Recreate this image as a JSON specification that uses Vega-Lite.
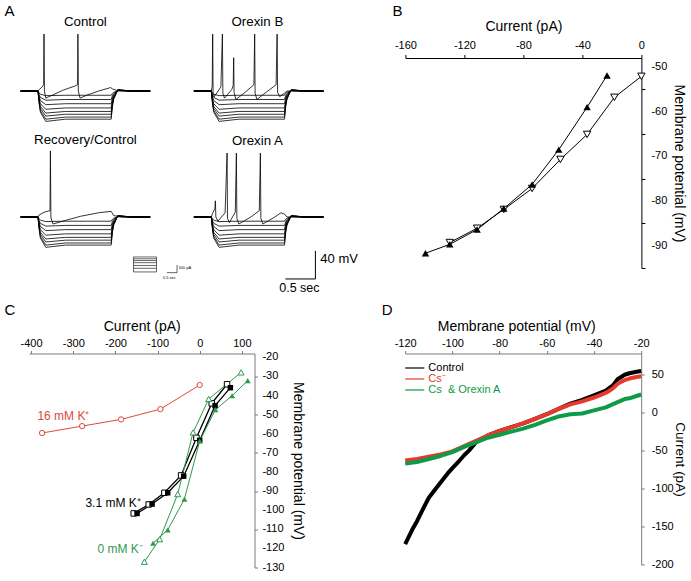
{
"$schema":"https://vega.github.io/schema/vega-lite/v6.json",
"background":"white",
"padding":{"left":4,"top":3,"right":0,"bottom":0},
"config":{"font":"Liberation Sans","view":{"stroke":null},
"axis":{"grid":false,"labelFont":"Liberation Sans","labelFontSize":11,"labelColor":"black","titleFont":"Liberation Sans","titleFontSize":14,"titleFontWeight":"normal","titleColor":"black","labelFlush":false,"labelOverlap":false,"tickSize":3,"domainColor":"black","tickColor":"black"},
"text":{"font":"Liberation Sans","color":"black"}},
"datasets":{
"steps":[
{"t":0,"a":-60,"b":-60,"c":-60,"d":-60,"e":-60,"f":-60,"g":-60,"h":-60},
{"t":0.29,"a":-60,"b":-60,"c":-60,"d":-60,"e":-60,"f":-60,"g":-60,"h":-60},
{"t":0.31,"a":-62.7,"b":-65.4,"c":-68.1,"d":-70.8,"e":-73,"f":-74.9,"g":-76.7,"h":-78},
{"t":0.33,"a":-64.5,"b":-69,"c":-73.5,"d":-78,"e":-81.8,"f":-84.8,"g":-87.8,"h":-90},
{"t":0.42,"a":-66.5,"b":-73,"c":-79.4,"d":-85.9,"e":-91.3,"f":-95.6,"g":-100,"h":-103.2},
{"t":0.75,"a":-66,"b":-72,"c":-78,"d":-84,"e":-89,"f":-93,"g":-97,"h":-100},
{"t":1.51,"a":-66,"b":-72,"c":-78,"d":-84,"e":-89,"f":-93,"g":-97,"h":-100},
{"t":1.53,"a":-63.3,"b":-66.6,"c":-69.9,"d":-73.2,"e":-76,"f":-78.2,"g":-80.4,"h":-82},
{"t":1.55,"a":-61.8,"b":-63.6,"c":-65.4,"d":-67.2,"e":-68.7,"f":-69.9,"g":-71.1,"h":-72},
{"t":1.62,"a":-59.7,"b":-59.4,"c":-59.1,"d":-58.8,"e":-58.6,"f":-58.4,"g":-58.2,"h":-58},
{"t":1.85,"a":-60,"b":-60,"c":-60,"d":-60,"e":-60,"f":-60,"g":-60,"h":-60},
{"t":2.16,"a":-60,"b":-60,"c":-60,"d":-60,"e":-60,"f":-60,"g":-60,"h":-60}],
"spk":[
{"p":"Control","t":0,"v":-60},{"p":"Control","t":0.29,"v":-60},{"p":"Control","t":0.31,"v":-58},{"p":"Control","t":0.36,"v":-54},{"p":"Control","t":0.385,"v":-51},{"p":"Control","t":0.39,"v":21},{"p":"Control","t":0.397,"v":-60},{"p":"Control","t":0.42,"v":-70},{"p":"Control","t":0.5,"v":-67},{"p":"Control","t":0.7,"v":-59},{"p":"Control","t":0.9,"v":-53},{"p":"Control","t":0.95,"v":-51},{"p":"Control","t":0.955,"v":21},{"p":"Control","t":0.962,"v":-60},{"p":"Control","t":0.99,"v":-70},{"p":"Control","t":1.1,"v":-66},{"p":"Control","t":1.3,"v":-60},{"p":"Control","t":1.5,"v":-55},{"p":"Control","t":1.53,"v":-57},{"p":"Control","t":1.6,"v":-59},{"p":"Control","t":1.8,"v":-60},{"p":"Control","t":2.16,"v":-60},
{"p":"OrexinB","t":0,"v":-60},{"p":"OrexinB","t":0.29,"v":-60},{"p":"OrexinB","t":0.305,"v":-53},{"p":"OrexinB","t":0.313,"v":21},{"p":"OrexinB","t":0.32,"v":-62},{"p":"OrexinB","t":0.34,"v":-68},{"p":"OrexinB","t":0.45,"v":-54},{"p":"OrexinB","t":0.475,"v":21},{"p":"OrexinB","t":0.483,"v":-63},{"p":"OrexinB","t":0.51,"v":-70},{"p":"OrexinB","t":0.63,"v":-58},{"p":"OrexinB","t":0.655,"v":-52},{"p":"OrexinB","t":0.663,"v":-12.6},{"p":"OrexinB","t":0.67,"v":-62},{"p":"OrexinB","t":0.7,"v":-72},{"p":"OrexinB","t":0.85,"v":-62},{"p":"OrexinB","t":1.0,"v":-51},{"p":"OrexinB","t":1.013,"v":21},{"p":"OrexinB","t":1.02,"v":-63},{"p":"OrexinB","t":1.05,"v":-72},{"p":"OrexinB","t":1.2,"v":-62},{"p":"OrexinB","t":1.37,"v":-51},{"p":"OrexinB","t":1.387,"v":21},{"p":"OrexinB","t":1.395,"v":-62},{"p":"OrexinB","t":1.43,"v":-68},{"p":"OrexinB","t":1.51,"v":-63},{"p":"OrexinB","t":1.55,"v":-60},{"p":"OrexinB","t":2.16,"v":-60},
{"p":"Recovery","t":0,"v":-60},{"p":"Recovery","t":0.29,"v":-60},{"p":"Recovery","t":0.31,"v":-57},{"p":"Recovery","t":0.4,"v":-53},{"p":"Recovery","t":0.49,"v":-51},{"p":"Recovery","t":0.497,"v":34},{"p":"Recovery","t":0.505,"v":-61},{"p":"Recovery","t":0.54,"v":-70},{"p":"Recovery","t":0.7,"v":-66},{"p":"Recovery","t":1.0,"v":-59},{"p":"Recovery","t":1.3,"v":-54},{"p":"Recovery","t":1.51,"v":-52},{"p":"Recovery","t":1.55,"v":-58},{"p":"Recovery","t":1.7,"v":-60},{"p":"Recovery","t":2.16,"v":-60},
{"p":"OrexinA","t":0,"v":-60},{"p":"OrexinA","t":0.29,"v":-60},{"p":"OrexinA","t":0.31,"v":-55},{"p":"OrexinA","t":0.35,"v":-48},{"p":"OrexinA","t":0.358,"v":-37},{"p":"OrexinA","t":0.366,"v":-60},{"p":"OrexinA","t":0.4,"v":-66},{"p":"OrexinA","t":0.52,"v":-54},{"p":"OrexinA","t":0.553,"v":31},{"p":"OrexinA","t":0.56,"v":-62},{"p":"OrexinA","t":0.59,"v":-68},{"p":"OrexinA","t":0.69,"v":-53},{"p":"OrexinA","t":0.708,"v":31},{"p":"OrexinA","t":0.716,"v":-62},{"p":"OrexinA","t":0.75,"v":-70},{"p":"OrexinA","t":0.95,"v":-60},{"p":"OrexinA","t":1.09,"v":-51},{"p":"OrexinA","t":1.108,"v":31},{"p":"OrexinA","t":1.116,"v":-62},{"p":"OrexinA","t":1.15,"v":-70},{"p":"OrexinA","t":1.35,"v":-60},{"p":"OrexinA","t":1.45,"v":-54},{"p":"OrexinA","t":1.51,"v":-56},{"p":"OrexinA","t":1.55,"v":-60},{"p":"OrexinA","t":2.16,"v":-60}],
"B":[
{"s":"o","x":0,"y":-52.1},{"s":"o","x":-18.3,"y":-56.8},{"s":"o","x":-36.8,"y":-65.1},{"s":"o","x":-54.9,"y":-70.7},{"s":"o","x":-74.1,"y":-77.2},{"s":"o","x":-93.3,"y":-81.9},{"s":"o","x":-111.4,"y":-86.1},{"s":"o","x":-129.9,"y":-89.3},
{"s":"f","x":-23.3,"y":-51.9},{"s":"f","x":-36.8,"y":-59},{"s":"f","x":-56,"y":-68.5},{"s":"f","x":-74.1,"y":-76.3},{"s":"f","x":-93.3,"y":-81.7},{"s":"f","x":-111.4,"y":-86.4},{"s":"f","x":-129.9,"y":-89.7},{"s":"f","x":-146.4,"y":-91.7}],
"Bylab":[{"lab":"-50","y":-50},{"lab":"-60","y":-60},{"lab":"-70","y":-70},{"lab":"-80","y":-80},{"lab":"-90","y":-90}],
"C":[
{"s":"r","x":-374,"y":-59.6},{"s":"r","x":-279,"y":-56},{"s":"r","x":-186.5,"y":-52.5},{"s":"r","x":-93.2,"y":-47.1},{"s":"r","x":0,"y":-34.5},
{"s":"ko","x":-156.6,"y":-101.7},{"s":"ko","x":-121,"y":-97},{"s":"ko","x":-83.8,"y":-90.9},{"s":"ko","x":-44.2,"y":-81.8},{"s":"ko","x":-7.8,"y":-62.1},{"s":"ko","x":28.5,"y":-44.1},{"s":"ko","x":64.9,"y":-34.1},
{"s":"kf","x":-148.6,"y":-101.7},{"s":"kf","x":-113,"y":-96.8},{"s":"kf","x":-75.9,"y":-90.9},{"s":"kf","x":-38,"y":-82.2},{"s":"kf","x":0,"y":-63.5},{"s":"kf","x":36.5,"y":-45.3},{"s":"kf","x":72.8,"y":-35.9},
{"s":"go","x":-131.2,"y":-127},{"s":"go","x":-94.9,"y":-115.2},{"s":"go","x":-52.2,"y":-91.6},{"s":"go","x":-15.7,"y":-59.3},{"s":"go","x":21.4,"y":-41.8},{"s":"go","x":98.2,"y":-27.9},
{"s":"gf","x":-110.6,"y":-117.3},{"s":"gf","x":-75.9,"y":-110.3},{"s":"gf","x":-36.3,"y":-94.2},{"s":"gf","x":0,"y":-63.8},{"s":"gf","x":37.2,"y":-47.4},{"s":"gf","x":76.9,"y":-40.1},{"s":"gf","x":113.9,"y":-32.2}],
"Cylab":[{"lab":"-20","y":-20},{"lab":"-30","y":-30},{"lab":"-40","y":-40},{"lab":"-50","y":-50},{"lab":"-60","y":-60},{"lab":"-70","y":-70},{"lab":"-80","y":-80},{"lab":"-90","y":-90},{"lab":"-100","y":-100},{"lab":"-110","y":-110},{"lab":"-120","y":-120},{"lab":"-130","y":-130}],
"D":[
{"s":"Control","x":-120,"y":-173},{"s":"Control","x":-117,"y":-154},{"s":"Control","x":-115,"y":-143},{"s":"Control","x":-112,"y":-124},{"s":"Control","x":-110,"y":-112},{"s":"Control","x":-107,"y":-100},{"s":"Control","x":-105,"y":-92},{"s":"Control","x":-102,"y":-80},{"s":"Control","x":-100,"y":-73},{"s":"Control","x":-97,"y":-63},{"s":"Control","x":-95,"y":-56},{"s":"Control","x":-93,"y":-50},{"s":"Control","x":-90,"y":-39},{"s":"Control","x":-85,"y":-30},{"s":"Control","x":-80,"y":-24},{"s":"Control","x":-75,"y":-19},{"s":"Control","x":-70,"y":-14},{"s":"Control","x":-65,"y":-8},{"s":"Control","x":-60,"y":-2},{"s":"Control","x":-55,"y":5},{"s":"Control","x":-50,"y":12},{"s":"Control","x":-45,"y":17},{"s":"Control","x":-40,"y":23},{"s":"Control","x":-35,"y":29},{"s":"Control","x":-32,"y":36},{"s":"Control","x":-30,"y":44},{"s":"Control","x":-27,"y":50},{"s":"Control","x":-25,"y":52},{"s":"Control","x":-22,"y":54},{"s":"Control","x":-20,"y":55},
{"s":"Cs⁻","x":-120,"y":-63},{"s":"Cs⁻","x":-115,"y":-61},{"s":"Cs⁻","x":-110,"y":-58},{"s":"Cs⁻","x":-105,"y":-55},{"s":"Cs⁻","x":-100,"y":-51},{"s":"Cs⁻","x":-95,"y":-44},{"s":"Cs⁻","x":-90,"y":-37},{"s":"Cs⁻","x":-85,"y":-30},{"s":"Cs⁻","x":-80,"y":-24},{"s":"Cs⁻","x":-75,"y":-19},{"s":"Cs⁻","x":-70,"y":-14},{"s":"Cs⁻","x":-65,"y":-8},{"s":"Cs⁻","x":-60,"y":-2},{"s":"Cs⁻","x":-55,"y":5},{"s":"Cs⁻","x":-50,"y":11},{"s":"Cs⁻","x":-45,"y":15},{"s":"Cs⁻","x":-40,"y":20},{"s":"Cs⁻","x":-35,"y":26},{"s":"Cs⁻","x":-32,"y":32},{"s":"Cs⁻","x":-30,"y":38},{"s":"Cs⁻","x":-27,"y":43},{"s":"Cs⁻","x":-25,"y":45},{"s":"Cs⁻","x":-22,"y":47},{"s":"Cs⁻","x":-20,"y":48},
{"s":"Cs & Orexin A","x":-120,"y":-67},{"s":"Cs & Orexin A","x":-115,"y":-65},{"s":"Cs & Orexin A","x":-110,"y":-61},{"s":"Cs & Orexin A","x":-105,"y":-57},{"s":"Cs & Orexin A","x":-100,"y":-52},{"s":"Cs & Orexin A","x":-95,"y":-45},{"s":"Cs & Orexin A","x":-90,"y":-39},{"s":"Cs & Orexin A","x":-85,"y":-33},{"s":"Cs & Orexin A","x":-80,"y":-29},{"s":"Cs & Orexin A","x":-75,"y":-25},{"s":"Cs & Orexin A","x":-70,"y":-21},{"s":"Cs & Orexin A","x":-65,"y":-16},{"s":"Cs & Orexin A","x":-60,"y":-10},{"s":"Cs & Orexin A","x":-55,"y":-5},{"s":"Cs & Orexin A","x":-50,"y":-2},{"s":"Cs & Orexin A","x":-45,"y":-1},{"s":"Cs & Orexin A","x":-40,"y":3},{"s":"Cs & Orexin A","x":-35,"y":7},{"s":"Cs & Orexin A","x":-30,"y":14},{"s":"Cs & Orexin A","x":-27,"y":18},{"s":"Cs & Orexin A","x":-25,"y":19},{"s":"Cs & Orexin A","x":-22,"y":22},{"s":"Cs & Orexin A","x":-20,"y":24}],
"Dleg":[
{"s":"Control","lab":"Control","y":58.9},
{"s":"Cs⁻","lab":"Cs⁻","y":44.4},
{"s":"Cs & Orexin A","lab":"Cs\u00a0 & Orexin A","y":29.9}]
},
"bounds":"flush","spacing":295.5,
"vconcat":[
{"bounds":"flush","spacing":376.4,"hconcat":[
 {"bounds":"flush","spacing":123,"vconcat":[
  {"bounds":"flush","spacing":23.3,"hconcat":[
   {"width":150,"height":64,"layer":[
    {"data":{"name":"steps"},"transform":[{"fold":["a","b","c","d","e","f","g","h"],"as":["k","v"]}],"mark":{"type":"line","color":"black","strokeWidth":0.8},
     "encoding":{"x":{"field":"t","type":"quantitative","scale":{"domain":[0.14,2.64],"nice":false,"zero":false},"axis":null},"y":{"field":"v","type":"quantitative","scale":{"domain":[-104,-13],"nice":false,"zero":false},"axis":null},"detail":{"field":"k"}}},
    {"data":{"name":"spk"},"transform":[{"filter":"datum.p==='Control'"}],"mark":{"type":"line","color":"black","strokeWidth":0.8},"encoding":{"x":{"field":"t","type":"quantitative"},"y":{"field":"v","type":"quantitative"}}},
    {"data":{"values":[{}]},"mark":{"type":"text","text":"Control","fontSize":13.3,"align":"center","baseline":"middle"},"encoding":{"x":{"datum":1.08},"y":{"datum":37.5}}},
    {"data":{"values":[{}]},"mark":{"type":"text","text":"A","fontSize":15,"align":"left","baseline":"top"},"encoding":{"x":{"datum":-0.27},"y":{"datum":63.8}}}
   ]},
   {"width":150,"height":64,"layer":[
    {"data":{"name":"steps"},"transform":[{"fold":["a","b","c","d","e","f","g","h"],"as":["k","v"]}],"mark":{"type":"line","color":"black","strokeWidth":0.8},
     "encoding":{"x":{"field":"t","type":"quantitative","scale":{"domain":[0.14,2.64],"nice":false,"zero":false},"axis":null},"y":{"field":"v","type":"quantitative","scale":{"domain":[-104,-13],"nice":false,"zero":false},"axis":null},"detail":{"field":"k"}}},
    {"data":{"name":"spk"},"transform":[{"filter":"datum.p==='OrexinB'"}],"mark":{"type":"line","color":"black","strokeWidth":0.8},"encoding":{"x":{"field":"t","type":"quantitative"},"y":{"field":"v","type":"quantitative"}}},
    {"data":{"values":[{}]},"mark":{"type":"text","text":"Orexin B","fontSize":13.3,"align":"center","baseline":"middle"},"encoding":{"x":{"datum":1.058},"y":{"datum":37.5}}}
   ]}
  ]},
  {"bounds":"flush","spacing":23.3,"hconcat":[
   {"width":150,"height":87,"layer":[
    {"data":{"name":"steps"},"transform":[{"fold":["a","b","c","d","e","f","g","h"],"as":["k","v"]}],"mark":{"type":"line","color":"black","strokeWidth":0.8},
     "encoding":{"x":{"field":"t","type":"quantitative","scale":{"domain":[0.14,2.64],"nice":false,"zero":false},"axis":null},"y":{"field":"v","type":"quantitative","scale":{"domain":[-132.6,-8.8],"nice":false,"zero":false},"axis":null},"detail":{"field":"k"}}},
    {"data":{"name":"spk"},"transform":[{"filter":"datum.p==='Recovery'"}],"mark":{"type":"line","color":"black","strokeWidth":0.8},"encoding":{"x":{"field":"t","type":"quantitative"},"y":{"field":"v","type":"quantitative"}}},
    {"data":{"values":[{}]},"mark":{"type":"text","text":"Recovery/Control","fontSize":13.3,"align":"center","baseline":"middle"},"encoding":{"x":{"datum":1.08},"y":{"datum":50.2}}},
    {"data":{"values":[{}]},"mark":{"type":"rect","filled":false,"color":"black","strokeWidth":0.6},"encoding":{"x":{"datum":1.882},"x2":{"datum":2.265},"y":{"datum":-116.9},"y2":{"datum":-138.2}}},
    {"data":{"values":[{"v":-119.5},{"v":-122},{"v":-125},{"v":-129},{"v":-133}]},"mark":{"type":"rule","color":"black","strokeWidth":0.6},"encoding":{"x":{"datum":1.882},"x2":{"datum":2.265},"y":{"field":"v","type":"quantitative"}}},
    {"data":{"values":[{}]},"mark":{"type":"rule","color":"black","strokeWidth":0.6},"encoding":{"x":{"datum":2.44},"x2":{"datum":2.607},"y":{"datum":-139.2}}},
    {"data":{"values":[{}]},"mark":{"type":"rule","color":"black","strokeWidth":0.6},"encoding":{"x":{"datum":2.607},"y":{"datum":-139.2},"y2":{"datum":-128.3}}},
    {"data":{"values":[{}]},"mark":{"type":"text","text":"100 pA","fontSize":4,"align":"left","baseline":"middle"},"encoding":{"x":{"datum":2.63},"y":{"datum":-132.7}}},
    {"data":{"values":[{}]},"mark":{"type":"text","text":"0.5 sec","fontSize":4,"align":"center","baseline":"middle"},"encoding":{"x":{"datum":2.48},"y":{"datum":-147}}}
   ]},
   {"width":150,"height":87,"layer":[
    {"data":{"name":"steps"},"transform":[{"fold":["a","b","c","d","e","f","g","h"],"as":["k","v"]}],"mark":{"type":"line","color":"black","strokeWidth":0.8},
     "encoding":{"x":{"field":"t","type":"quantitative","scale":{"domain":[0.14,2.64],"nice":false,"zero":false},"axis":null},"y":{"field":"v","type":"quantitative","scale":{"domain":[-132.6,-8.8],"nice":false,"zero":false},"axis":null},"detail":{"field":"k"}}},
    {"data":{"name":"spk"},"transform":[{"filter":"datum.p==='OrexinA'"}],"mark":{"type":"line","color":"black","strokeWidth":0.8},"encoding":{"x":{"field":"t","type":"quantitative"},"y":{"field":"v","type":"quantitative"}}},
    {"data":{"values":[{}]},"mark":{"type":"text","text":"Orexin A","fontSize":13.3,"align":"center","baseline":"middle"},"encoding":{"x":{"datum":1.058},"y":{"datum":48.1}}},
    {"data":{"values":[{}]},"mark":{"type":"rule","color":"black","strokeWidth":1},"encoding":{"x":{"datum":1.525},"x2":{"datum":2.025},"y":{"datum":-148.2}}},
    {"data":{"values":[{}]},"mark":{"type":"rule","color":"black","strokeWidth":1},"encoding":{"x":{"datum":2.025},"y":{"datum":-148.2},"y2":{"datum":-108.2}}},
    {"data":{"values":[{}]},"mark":{"type":"text","text":"40 mV","fontSize":13,"align":"left","baseline":"middle"},"encoding":{"x":{"datum":2.107},"y":{"datum":-119.7}}},
    {"data":{"values":[{}]},"mark":{"type":"text","text":"0.5 sec","fontSize":12.5,"align":"center","baseline":"middle"},"encoding":{"x":{"datum":1.758},"y":{"datum":-160.9}}}
   ]}
  ]}
 ]},
 {"width":236,"height":210,"data":{"name":"B"},"layer":[
  {"mark":{"type":"line","color":"black","strokeWidth":1},
   "encoding":{"x":{"field":"x","type":"quantitative","scale":{"domain":[-160,0],"nice":false,"zero":false},
     "axis":{"orient":"top","values":[-160,-140,-120,-100,-80,-60,-40,-20,0],"labelExpr":"'' + datum.value","labelOpacity":{"condition":{"test":"datum.value % 40 !== 0","value":0},"value":1},"title":"Current (pA)","tickSize":3.5,"labelPadding":4,"titlePadding":6}},
    "y":{"field":"y","type":"quantitative","scale":{"domain":[-95,-48],"nice":false,"zero":false},
     "axis":{"orient":"right","values":[-95,-90,-85,-80,-75,-70,-65,-60,-55,-50],"labels":false,"title":"Membrane potential (mV)","tickSize":3.5,"titlePadding":26.5}},
    "detail":{"field":"s"}}},
  {"transform":[{"filter":"datum.s==='o'"}],"mark":{"type":"point","shape":"triangle-down","filled":true,"fill":"white","stroke":"black","strokeWidth":1,"size":55,"opacity":1},"encoding":{"x":{"field":"x","type":"quantitative"},"y":{"field":"y","type":"quantitative"}}},
  {"transform":[{"filter":"datum.s==='f'"}],"mark":{"type":"point","shape":"triangle-up","filled":true,"color":"black","size":55,"opacity":1},"encoding":{"x":{"field":"x","type":"quantitative"},"y":{"field":"y","type":"quantitative"}}},
  {"data":{"name":"Bylab"},"mark":{"type":"text","fontSize":11,"align":"left","baseline":"middle"},"encoding":{"x":{"datum":6.78},"y":{"field":"y","type":"quantitative","title":"Membrane potential (mV)"},"text":{"field":"lab"}}},
  {"data":{"values":[{}]},"mark":{"type":"text","text":"B","fontSize":15,"align":"left","baseline":"top"},"encoding":{"x":{"datum":-168.8},"y":{"datum":-35.9}}}
 ]}
]},
{"bounds":"flush","spacing":150.2,
"hconcat":[
 {"width":225.5,"height":214,"data":{"name":"C"},"layer":[
  {"transform":[{"filter":"datum.s==='r'"}],"mark":{"type":"line","color":"#e0483c","strokeWidth":1},
   "encoding":{"x":{"field":"x","type":"quantitative","scale":{"domain":[-405,130],"nice":false,"zero":false},
     "axis":{"orient":"top","values":[-400,-375,-350,-325,-300,-275,-250,-225,-200,-175,-150,-125,-100,-75,-50,-25,0,25,50,75,100,125],"labelExpr":"'' + datum.value","labelOpacity":{"condition":{"test":"datum.value % 100 !== 0","value":0},"value":1},"title":"Current (pA)","tickSize":3,"labelPadding":2,"titlePadding":4,"domainColor":"#7a7a7a","tickColor":"#7a7a7a"}},
    "y":{"field":"y","type":"quantitative","scale":{"domain":[-130,-18],"nice":false,"zero":false},
     "axis":{"orient":"right","values":[-130,-125,-120,-115,-110,-105,-100,-95,-90,-85,-80,-75,-70,-65,-60,-55,-50,-45,-40,-35,-30,-25,-20],"labels":false,"title":"Membrane potential (mV)","tickSize":3,"titlePadding":32,"domainColor":"#7a7a7a","tickColor":"#7a7a7a"}}}},
  {"transform":[{"filter":"datum.s==='ko' || datum.s==='kf'"}],"mark":{"type":"line","color":"black","strokeWidth":1.3},"encoding":{"x":{"field":"x","type":"quantitative"},"y":{"field":"y","type":"quantitative"},"detail":{"field":"s"}}},
  {"transform":[{"filter":"datum.s==='go' || datum.s==='gf'"}],"mark":{"type":"line","color":"#2e9a4e","strokeWidth":1},"encoding":{"x":{"field":"x","type":"quantitative"},"y":{"field":"y","type":"quantitative"},"detail":{"field":"s"}}},
  {"transform":[{"filter":"datum.s==='r'"}],"mark":{"type":"point","shape":"circle","filled":true,"fill":"white","stroke":"#e0483c","strokeWidth":1,"size":28,"opacity":1},"encoding":{"x":{"field":"x","type":"quantitative"},"y":{"field":"y","type":"quantitative"}}},
  {"transform":[{"filter":"datum.s==='ko'"}],"mark":{"type":"point","shape":"square","filled":true,"fill":"white","stroke":"black","strokeWidth":1,"size":30,"opacity":1},"encoding":{"x":{"field":"x","type":"quantitative"},"y":{"field":"y","type":"quantitative"}}},
  {"transform":[{"filter":"datum.s==='kf'"}],"mark":{"type":"point","shape":"square","filled":true,"color":"black","size":30,"opacity":1},"encoding":{"x":{"field":"x","type":"quantitative"},"y":{"field":"y","type":"quantitative"}}},
  {"transform":[{"filter":"datum.s==='go'"}],"mark":{"type":"point","shape":"triangle-up","filled":true,"fill":"white","stroke":"#2e9a4e","strokeWidth":1,"size":36,"opacity":1},"encoding":{"x":{"field":"x","type":"quantitative"},"y":{"field":"y","type":"quantitative"}}},
  {"transform":[{"filter":"datum.s==='gf'"}],"mark":{"type":"point","shape":"triangle-up","filled":true,"color":"#2e9a4e","size":36,"opacity":1},"encoding":{"x":{"field":"x","type":"quantitative"},"y":{"field":"y","type":"quantitative"}}},
  {"data":{"name":"Cylab"},"mark":{"type":"text","fontSize":11,"align":"left","baseline":"middle"},"encoding":{"x":{"datum":148.7},"y":{"field":"y","type":"quantitative","title":"Membrane potential (mV)"},"text":{"field":"lab"}}},
  {"data":{"values":[{}]},"mark":{"type":"text","text":"16 mM K⁺","fontSize":12,"align":"left","baseline":"middle","color":"#e0483c"},"encoding":{"x":{"datum":-385.1},"y":{"datum":-50.7}}},
  {"data":{"values":[{}]},"mark":{"type":"text","text":"3.1 mM K⁺","fontSize":12,"align":"left","baseline":"middle","color":"black"},"encoding":{"x":{"datum":-271.2},"y":{"datum":-96.2}}},
  {"data":{"values":[{}]},"mark":{"type":"text","text":"0 mM K⁻","fontSize":12,"align":"left","baseline":"middle","color":"#2e9a4e"},"encoding":{"x":{"datum":-242.7},"y":{"datum":-120.3}}},
  {"data":{"values":[{}]},"mark":{"type":"text","text":"C","fontSize":15,"align":"left","baseline":"top"},"encoding":{"x":{"datum":-463.4},"y":{"datum":8.4}}}
 ]},
 {"width":236,"height":211,"data":{"name":"D"},"layer":[
  {"mark":{"type":"line","strokeWidth":4,"strokeJoin":"round"},
   "encoding":{"x":{"field":"x","type":"quantitative","scale":{"domain":[-120,-20],"nice":false,"zero":false},
     "axis":{"orient":"top","values":[-120,-115,-110,-105,-100,-95,-90,-85,-80,-75,-70,-65,-60,-55,-50,-45,-40,-35,-30,-25,-20],"labelExpr":"'' + datum.value","labelOpacity":{"condition":{"test":"datum.value % 20 !== 0","value":0},"value":1},"title":"Membrane potential (mV)","titleX":111,"tickSize":3,"labelPadding":2,"titlePadding":4,"domainColor":"#7a7a7a","tickColor":"#7a7a7a"}},
    "y":{"field":"y","type":"quantitative","scale":{"domain":[-200,78],"nice":false,"zero":false},
     "axis":{"orient":"right","values":[-200,-175,-150,-125,-100,-75,-50,-25,0,25,50,75],"labelExpr":"'' + datum.value","labelOpacity":{"condition":{"test":"datum.value % 50 !== 0","value":0},"value":1},"title":"Current (pA)","titleFontSize":13.5,"tickSize":3,"labelPadding":7,"titlePadding":-1,"domainColor":"#7a7a7a","tickColor":"#7a7a7a"}},
    "color":{"field":"s","type":"nominal","scale":{"domain":["Control","Cs⁻","Cs & Orexin A"],"range":["#000000","#e8392d","#0f9a48"]},"legend":null}}},
  {"data":{"name":"Dleg"},"mark":{"type":"rule","strokeWidth":1.2},"encoding":{"x":{"datum":-120},"x2":{"datum":-111.9},"y":{"field":"y","type":"quantitative"},"color":{"field":"s","type":"nominal"}}},
  {"data":{"name":"Dleg"},"mark":{"type":"text","fontSize":11,"align":"left","baseline":"middle"},"encoding":{"x":{"datum":-110.2},"y":{"field":"y","type":"quantitative"},"text":{"field":"lab"},"color":{"field":"s","type":"nominal"}}},
  {"data":{"values":[{}]},"mark":{"type":"text","text":"D","fontSize":15,"align":"left","baseline":"top"},"encoding":{"x":{"datum":-129.9},"y":{"datum":144.5}}}
 ]}
]}
]
}
